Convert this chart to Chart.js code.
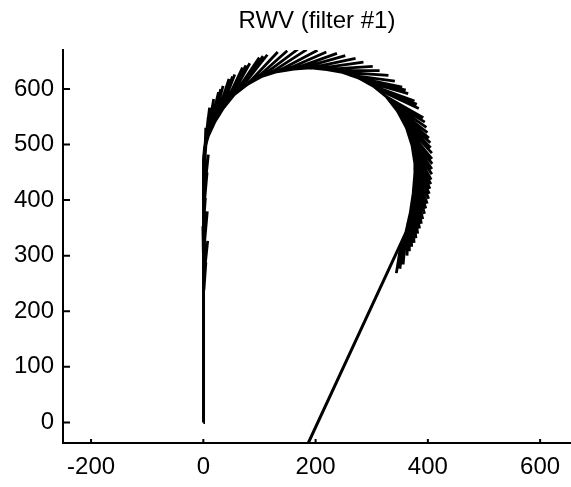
<!DOCTYPE html>
<html>
<head>
<meta charset="utf-8">
<script src="https://cdn.jsdelivr.net/npm/chart.js@4"></script>
<style>
  body { margin: 0; background: #fff; }
  canvas { display: block; }
</style>
</head>
<body>
<canvas id="rwvChart" width="571" height="487"></canvas>
<script>
const chartTitle = 'RWV (filter #1)';

// tick labels
const xTicks = [-200, 0, 200, 400, 600];
const yTicks = [0, 100, 200, 300, 400, 500, 600];

// trajectory (x, y)
const pathX = [0, 0, 0, 1, 2, 9, 21, 36, 55, 78, 103, 131, 161, 191, 220, 248, 276, 303, 326, 346, 362, 372, 377, 377, 374, 369, 361, 187, 172];
const pathY = [0, 240, 400, 472, 492, 516, 542, 566, 590, 608, 622, 631, 636, 638, 635, 630, 620, 605, 586, 560, 530, 498, 466, 448, 412, 378, 342, -37, -70];

// filter heading hairs: base point, heading (deg), length
const hairX = [1, 0, 2, 1, 0, 2, 1, 0, 2, 1, 0, 2, 1, 1, 2, 1,
  2, 5, 9, 12, 15, 21, 25, 28, 36, 40, 45, 55, 60, 66, 78, 90, 103, 117, 131, 146,
  161, 176, 191, 206, 220, 234, 248, 262, 276, 284, 290, 303, 309, 315, 326, 331, 336, 341, 346, 351,
  355, 359, 362, 365, 368, 370, 372, 374, 375, 376, 377, 377, 377, 377, 376, 375, 374, 373, 372, 371,
  369, 367, 365, 361, 357, 352];
const hairY = [238, 255, 272, 290, 305, 322, 338, 352, 368, 385, 400, 416, 432, 447, 462, 475,
  492, 505, 516, 523, 530, 542, 548, 553, 566, 572, 578, 590, 595, 600, 608, 615, 622, 627, 631, 634,
  636, 638, 638, 637, 635, 633, 630, 625, 620, 617, 613, 605, 601, 597, 586, 580, 574, 567, 560, 553,
  546, 538, 530, 522, 514, 506, 498, 490, 482, 474, 466, 457, 448, 439, 430, 421, 412, 403, 395, 386,
  378, 369, 360, 342, 332, 320];
const hairHeading = [86, 89, 84, 88, 91, 85, 89, 86, 90, 85, 88, 84, 89, 86, 88, 84,
  83, 80, 77, 76, 75, 72, 70, 69, 65, 63, 61, 56, 54, 52, 47, 42, 37, 33, 28, 24,
  20, 16, 12, 8, 4, 0, -4, -8, -12, -14, -16, -20, -22, -25, -30, -32, -35, -38, -41, -43,
  -46, -48, -51, -53, -56, -58, -61, -63, -65, -67, -69, -71, -73, -75, -77, -78, -80, -82, -84, -86,
  -88, -90, -92, -95, -97, -99];
const hairLength = [50, 45, 55, 60, 48, 58, 62, 52, 60, 65, 58, 66, 62, 70, 68, 74,
  75, 78, 80, 79, 78, 80, 79, 78, 80, 79, 78, 80, 79, 78, 80, 80, 82, 80, 82, 80,
  82, 80, 82, 80, 82, 80, 82, 80, 80, 79, 78, 78, 77, 76, 76, 75, 75, 74, 74, 73,
  72, 72, 72, 71, 70, 70, 70, 69, 68, 68, 68, 67, 66, 66, 66, 65, 64, 64, 64, 63,
  62, 61, 60, 58, 56, 52];

const pathData = pathX.map((x, i) => ({ x: x, y: pathY[i] }));
const hairData = [];
hairX.forEach((x, i) => {
    const a = hairHeading[i] * Math.PI / 180;
    hairData.push({ x: x, y: hairY[i] });
    hairData.push({ x: x + hairLength[i] * Math.cos(a), y: hairY[i] + hairLength[i] * Math.sin(a) });
    hairData.push({ x: x, y: null });
});

const fontFamily = "'Liberation Sans', Arial, Helvetica, sans-serif";

// inward tick marks and a title centred over the axes, like the original plot
const plotDecor = {
    id: 'plotDecor',
    afterDraw(chart) {
        const ctx = chart.ctx;
        const area = chart.chartArea;
        const xs = chart.scales.x, ys = chart.scales.y;
        ctx.save();
        ctx.strokeStyle = '#000';
        ctx.lineWidth = 2;
        ctx.beginPath();
        xTicks.forEach(v => {
            const px = xs.getPixelForValue(v);
            ctx.moveTo(px, area.bottom);
            ctx.lineTo(px, area.bottom - 4);
        });
        yTicks.forEach(v => {
            const py = ys.getPixelForValue(v);
            ctx.moveTo(area.left, py);
            ctx.lineTo(area.left + 7, py);
        });
        ctx.stroke();

        ctx.fillStyle = '#000';
        ctx.font = '24px ' + fontFamily;
        ctx.textAlign = 'center';
        ctx.textBaseline = 'alphabetic';
        ctx.fillText(chartTitle, (area.left + area.right) / 2, 28);
        ctx.restore();
    }
};

new Chart(document.getElementById('rwvChart'), {
    type: 'scatter',
    data: {
        datasets: [{
            data: pathData,
            showLine: true,
            borderColor: '#000',
            borderWidth: 3,
            pointRadius: 0,
            tension: 0
        }, {
            data: hairData,
            showLine: true,
            spanGaps: false,
            borderColor: '#000',
            borderWidth: 2.8,
            pointRadius: 0,
            tension: 0
        }]
    },
    options: {
        responsive: false,
        animation: false,
        layout: { padding: { left: 0, right: 0, top: 50, bottom: 0 } },
        plugins: {
            legend: { display: false },
            tooltip: { enabled: false },
            title: { display: false }
        },
        scales: {
            x: {
                type: 'linear',
                min: -250,
                max: 655,
                afterBuildTicks: scale => { scale.ticks = xTicks.map(v => ({ value: v })); },
                afterFit: scale => { scale.height = 44; },
                grid: { display: true, drawOnChartArea: false, drawTicks: false },
                border: { display: true, color: '#000', width: 2 },
                ticks: { color: '#000', font: { family: fontFamily, size: 24 }, padding: 10, maxRotation: 0 }
            },
            y: {
                type: 'linear',
                min: -37,
                max: 670,
                afterBuildTicks: scale => { scale.ticks = yTicks.map(v => ({ value: v })); },
                afterFit: scale => { scale.width = 63; },
                grid: { display: true, drawOnChartArea: false, drawTicks: false },
                border: { display: true, color: '#000', width: 2 },
                ticks: { color: '#000', font: { family: fontFamily, size: 24 }, padding: 9 }
            }
        }
    },
    plugins: [plotDecor]
});
</script>
</body>
</html>
